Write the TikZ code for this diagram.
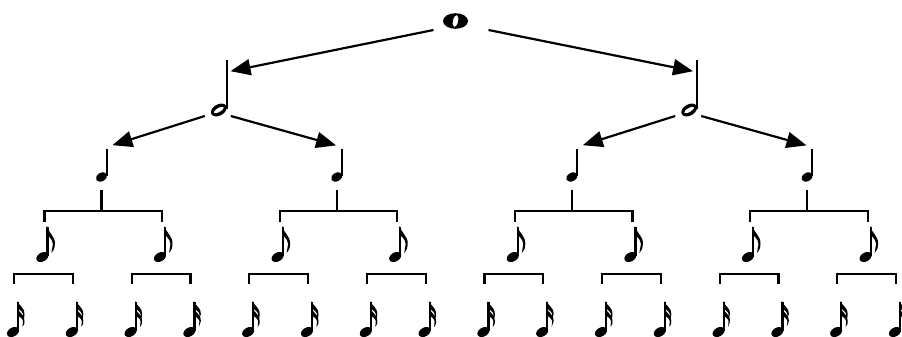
\documentclass[tikz,border=0pt]{standalone}
\usetikzlibrary{arrows.meta}
\tikzset{stem/.style={line width=1.1pt},
         link/.style={line width=1.1pt},
         arr/.style={link, -{Triangle[length=10pt,width=8pt]}, shorten >=2pt},
         whole/.pic={\fill[even odd rule] (0,0) ellipse [x radius=12.5, y radius=7.8]
                       [rotate=-12] (0,0) ellipse [x radius=2.6, y radius=6.2];
                     \coordinate (-l) at (-22,9); \coordinate (-r) at (33,9);},
         half/.pic={\fill[even odd rule, rotate=30] (0,0) ellipse [x radius=8.5, y radius=5.6]
                       (0,0) ellipse [x radius=5.8, y radius=2.1];
                    \draw[stem] (7.8,-1) -- (7.8,-50);
                    \coordinate (-in) at (7.8,-38);
                    \coordinate (-l) at (-14,6); \coordinate (-r) at (12,6);},
         quarter/.pic={\fill[rotate=30] (0,0) ellipse [x radius=6, y radius=4.2];
                       \draw[stem] (5.2,-1) -- (5.2,-28);
                       \coordinate (-in) at (5.2,-30); \coordinate (-bot) at (0,13);},
         eighth/.pic={\fill[rotate=30] (0,0) ellipse [x radius=6.5, y radius=4.4];
                      \draw[stem] (5,-1) -- (5,-30);
                      \fill (4.5,-31) .. controls (6,-24) and (13,-21) .. (12.5,-13) .. controls (12,-8) .. (9,-4)
                        .. controls (10.5,-9) .. (10.5,-13) .. controls (10,-19) and (5,-21) .. (4.5,-23) -- cycle;
                      \coordinate (-top) at (2,-35);},
         sixteenth/.pic={\fill[rotate=30] (0,0) ellipse [x radius=6.5, y radius=4.4];
                         \draw[stem] (5,-1) -- (5,-30);
                         \foreach \d in {0,7}
                           \fill[shift={(0,\d)}] (4.5,-31) .. controls (6,-26) and (12,-24) .. (11.5,-18)
                             .. controls (11.5,-15) .. (9.5,-12) .. controls (10.5,-15) .. (10,-18)
                             .. controls (9.5,-21) and (5,-23) .. (4.5,-24) -- cycle;
                         \coordinate (-top) at (1,-48);}}
\begin{document}
\begin{tikzpicture}[x=0.5pt,y=-0.5pt]
    \useasboundingbox (0,0) rectangle (902,337);
    % notes, one row per value
    \pic (w) at (455.5,21) {whole};
    \foreach \m in {0,1} \pic (h\m) at ({218.8+470.4*\m},110) {half};
    \foreach \k in {0,...,3} \pic (q\k) at ({101.5+235.2*\k},177) {quarter};
    \foreach \j in {0,...,7} \pic (e\j) at ({42.4+117.6*\j},257) {eighth};
    \foreach \i in {0,...,15} \pic (s\i) at ({13+58.8*\i},332) {sixteenth};
    % arrows
    \draw[arr] (w-l) -- (h0-in);
    \draw[arr] (w-r) -- (h1-in);
    \foreach \m [evaluate=\m as \a using int(2*\m), evaluate=\m as \b using int(2*\m+1)] in {0,1} {
        \draw[arr, shorten >=3pt] (h\m-l) -- (q\a-in);
        \draw[arr, shorten >=3pt] (h\m-r) -- (q\b-in);
    }
    % brackets
    \foreach \k [evaluate=\k as \a using int(2*\k), evaluate=\k as \b using int(2*\k+1)] in {0,...,3} {
        \draw[link] (q\k-bot) -- ++(0,21);
        \draw[link] (e\a-top) -- ++(0,-11) -| (e\b-top);
    }
    \foreach \j [evaluate=\j as \a using int(2*\j), evaluate=\j as \b using int(2*\j+1)] in {0,...,7}
        \draw[link] (s\a-top) -- ++(0,-10) -| (s\b-top);
\end{tikzpicture}
\end{document}
